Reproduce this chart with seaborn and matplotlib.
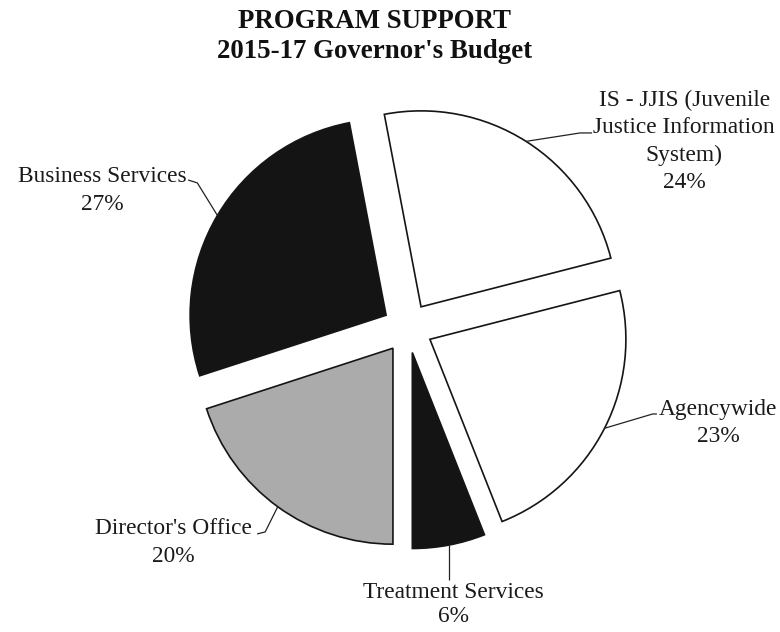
import numpy as np
import matplotlib
matplotlib.use("Agg")
import matplotlib.pyplot as plt
import seaborn as sns

# Program Support budget shares, 2015-17 Governor's Budget
categories = ["Treatment Services", "Agencywide",
              "IS - JJIS (Juvenile\nJustice Information\nSystem)",
              "Business Services", "Director's Office"]
shares = [6, 23, 24, 27, 20]
percent_labels = ["6%", "23%", "24%", "27%", "20%"]
colors = ["#141414", "#ffffff", "#ffffff", "#141414", "#ababab"]

sns.set_theme(style="white")
plt.rcParams["font.family"] = ["Liberation Serif", "DejaVu Serif"]

fig = plt.figure(figsize=(7.8, 6.32), dpi=100)
fig.patch.set_facecolor("white")
ax = fig.add_axes([0, 0, 1, 1])

explode_frac = 0.1276
wedges, _ = ax.pie(shares, colors=colors, startangle=270, counterclock=True,
                   explode=[explode_frac] * len(shares), radius=1.0,
                   wedgeprops=dict(edgecolor="#151515", linewidth=1.2))
ax.set_xlim(-2.080, 1.900)
ax.set_ylim(-1.551, 1.673)
ax.set_aspect("equal")
ax.axis("off")

# label block centre, line spacing, leader elbow and leader end (data units)
label_pos = [(0.232, -1.412), (1.584, -0.485), (1.411, 0.952),
             (-1.559, 0.702), (-1.196, -1.095)]
label_spacing = [1.2, 1.4, 1.4, 1.4, 1.4]
elbows = [None, (1.250, -0.439), (0.880, 0.995), (-1.073, 0.740), (-0.727, -1.041)]
ends = [(None, -1.286), (1.272, -0.439), (0.941, 0.995), (-1.120, 0.755), (-0.768, -1.051)]

total = float(sum(shares))
angle = 270.0
for i, (w, v) in enumerate(zip(wedges, shares)):
    span = 360.0 * v / total
    mid = np.deg2rad(angle + span / 2.0)
    angle += span
    cx, cy = w.center
    sx, sy = cx + np.cos(mid), cy + np.sin(mid)
    if elbows[i] is None:
        xs, ys = [sx, sx], [sy, ends[i][1]]
    else:
        xs = [sx, elbows[i][0], ends[i][0]]
        ys = [sy, elbows[i][1], ends[i][1]]
    ax.plot(xs, ys, color="#222222", lw=0.9, solid_capstyle="butt")
    ax.text(label_pos[i][0], label_pos[i][1],
            categories[i] + "\n" + percent_labels[i],
            ha="center", va="center", multialignment="center",
            fontsize=16.8, color="#1a1a1a", linespacing=label_spacing[i])

fig.text(375 / 780, 1 - 21 / 632, "PROGRAM SUPPORT", ha="center", va="center",
         fontsize=19.4, fontweight="bold", color="#111111")
fig.text(375 / 780, 1 - 51 / 632, "2015-17 Governor's Budget", ha="center",
         va="center", fontsize=19.4, fontweight="bold", color="#111111")

fig.savefig("out.png", dpi=100, facecolor="white")
